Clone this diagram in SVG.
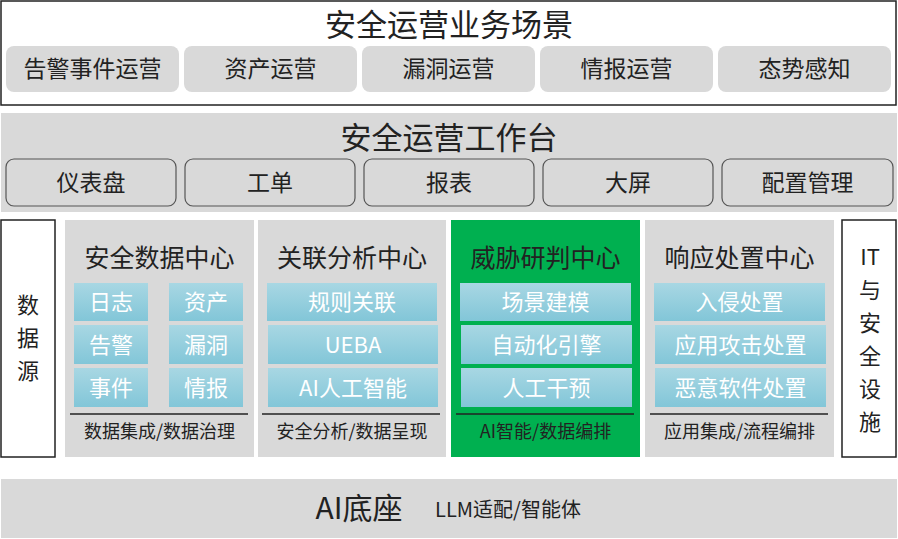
<svg xmlns="http://www.w3.org/2000/svg" width="898" height="539" viewBox="0 0 898 539">
<defs>
<linearGradient id="blue" x1="0" y1="0" x2="0" y2="1">
<stop offset="0" stop-color="#a8d7e3"/>
<stop offset="1" stop-color="#82c6d8"/>
</linearGradient>
<style>
text{font-family:"Noto Sans CJK SC","Microsoft YaHei",sans-serif;text-anchor:middle;dominant-baseline:central;fill:#222}
.t1{font-size:31px}
.t2{font-size:23px}
.pt{font-size:25px}
.bt{font-size:22px;fill:#fff}
.ft{font-size:18px}
.vt{font-size:22px}
.gray{fill:#d9d9d9}
.scene{fill:#d9d9d9}
.btn{fill:#d9d9d9;stroke:#555;stroke-width:1.2}
.blue{fill:url(#blue)}
.sep{stroke:#222;stroke-width:1.3}
.frame{fill:#fff;stroke:#222;stroke-width:1.5}
</style>
</defs>
<rect width="898" height="539" fill="#fff"/>

<g id="scenes">
<rect class="frame" x="1" y="1" width="895" height="104"/>
<text class="t1" x="449" y="22">安全运营业务场景</text>
<g id="scene1"><rect class="scene" x="6" y="46" width="173" height="46" rx="8"/><text class="t2" x="92.5" y="67">告警事件运营</text></g>
<g id="scene2"><rect class="scene" x="184" y="46" width="173" height="46" rx="8"/><text class="t2" x="270.5" y="67">资产运营</text></g>
<g id="scene3"><rect class="scene" x="362" y="46" width="173" height="46" rx="8"/><text class="t2" x="448.5" y="67">漏洞运营</text></g>
<g id="scene4"><rect class="scene" x="540" y="46" width="173" height="46" rx="8"/><text class="t2" x="626.5" y="67">情报运营</text></g>
<g id="scene5"><rect class="scene" x="718" y="46" width="173" height="46" rx="8"/><text class="t2" x="804.5" y="67">态势感知</text></g>
</g>

<g id="workbench">
<rect class="gray" x="1" y="113" width="896" height="99"/>
<text class="t1" x="449" y="135">安全运营工作台</text>
<g id="wb1"><rect class="btn" x="6" y="159" width="170" height="47" rx="8"/><text class="t2" x="91" y="181">仪表盘</text></g>
<g id="wb2"><rect class="btn" x="185" y="159" width="170" height="47" rx="8"/><text class="t2" x="270" y="181">工单</text></g>
<g id="wb3"><rect class="btn" x="364" y="159" width="170" height="47" rx="8"/><text class="t2" x="449" y="181">报表</text></g>
<g id="wb4"><rect class="btn" x="543" y="159" width="170" height="47" rx="8"/><text class="t2" x="628" y="181">大屏</text></g>
<g id="wb5"><rect class="btn" x="722" y="159" width="171" height="47" rx="8"/><text class="t2" x="807.5" y="181">配置管理</text></g>
</g>

<g id="datasource">
<rect class="frame" x="1" y="220" width="54" height="237"/>
<text class="vt"><tspan x="28" y="303">数</tspan><tspan x="28" y="336">据</tspan><tspan x="28" y="369">源</tspan></text>
</g>

<g id="center1">
<rect class="gray" x="65" y="220" width="189" height="237"/>
<text class="pt" x="159.5" y="256">安全数据中心</text>
<rect class="blue" x="74" y="283" width="74" height="38"/><text class="bt" x="111" y="300">日志</text>
<rect class="blue" x="169" y="283" width="74" height="38"/><text class="bt" x="206" y="300">资产</text>
<rect class="blue" x="74" y="325" width="74" height="39"/><text class="bt" x="111" y="342.5">告警</text>
<rect class="blue" x="169" y="325" width="74" height="39"/><text class="bt" x="206" y="342.5">漏洞</text>
<rect class="blue" x="74" y="368" width="74" height="39"/><text class="bt" x="111" y="385.5">事件</text>
<rect class="blue" x="169" y="368" width="74" height="39"/><text class="bt" x="206" y="385.5">情报</text>
<line class="sep" x1="70" y1="414" x2="248" y2="414"/>
<text class="ft" x="159.5" y="430">数据集成/数据治理</text>
</g>

<g id="center2">
<rect class="gray" x="258" y="220" width="188" height="237"/>
<text class="pt" x="352" y="256">关联分析中心</text>
<rect class="blue" x="267" y="283" width="170" height="38"/><text class="bt" x="352" y="300">规则关联</text>
<rect class="blue" x="268" y="325" width="170" height="39"/><text class="bt" x="353" y="342.5">UEBA</text>
<rect class="blue" x="268" y="368" width="170" height="39"/><text class="bt" x="353" y="385.5">AI人工智能</text>
<line class="sep" x1="262" y1="414" x2="440" y2="414"/>
<text class="ft" x="352" y="430">安全分析/数据呈现</text>
</g>

<g id="center3">
<rect x="451" y="220" width="189" height="237" fill="#00b050"/>
<text class="pt" x="545.5" y="256">威胁研判中心</text>
<rect class="blue" x="460" y="283" width="171" height="38"/><text class="bt" x="545.5" y="300">场景建模</text>
<rect class="blue" x="461" y="325" width="171" height="39"/><text class="bt" x="546.5" y="342.5">自动化引擎</text>
<rect class="blue" x="461" y="368" width="171" height="39"/><text class="bt" x="546.5" y="385.5">人工干预</text>
<line class="sep" x1="456" y1="414" x2="634" y2="414"/>
<text class="ft" x="545.5" y="430">AI智能/数据编排</text>
</g>

<g id="center4">
<rect class="gray" x="645" y="220" width="189" height="237"/>
<text class="pt" x="739.5" y="256">响应处置中心</text>
<rect class="blue" x="654" y="283" width="171" height="38"/><text class="bt" x="739.5" y="300">入侵处置</text>
<rect class="blue" x="655" y="325" width="171" height="39"/><text class="bt" x="740.5" y="342.5">应用攻击处置</text>
<rect class="blue" x="655" y="368" width="171" height="39"/><text class="bt" x="740.5" y="385.5">恶意软件处置</text>
<line class="sep" x1="650" y1="414" x2="828" y2="414"/>
<text class="ft" x="739.5" y="430">应用集成/流程编排</text>
</g>

<g id="infra">
<rect class="frame" x="842" y="220" width="54" height="237"/>
<text class="vt"><tspan x="870" y="255">IT</tspan><tspan x="870" y="288">与</tspan><tspan x="870" y="321">安</tspan><tspan x="870" y="354">全</tspan><tspan x="870" y="387">设</tspan><tspan x="870" y="420">施</tspan></text>
</g>

<g id="aibase">
<rect class="gray" x="1" y="479" width="896" height="59"/>
<text x="359" y="506" style="font-size:30px">AI底座</text>
<text x="508" y="508" style="font-size:20px">LLM适配/智能体</text>
</g>

<g id="connectors"></g>
</svg>
